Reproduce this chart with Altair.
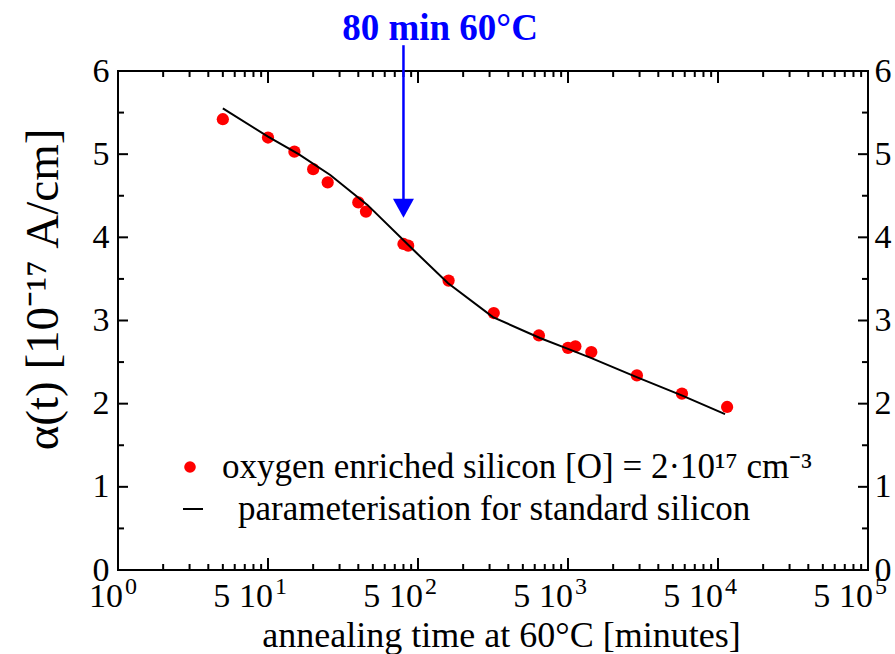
import altair as alt
import pandas as pd

# ---------------- data ----------------
anneal_minutes = [5, 10, 15, 20, 25, 40, 45, 80, 86, 160, 320, 640, 1000, 1120, 1430, 2880, 5750, 11500]
alpha_oxygen = [5.42, 5.20, 5.03, 4.82, 4.66, 4.42, 4.31, 3.92, 3.90, 3.48, 3.09, 2.82, 2.67, 2.69, 2.62, 2.34, 2.12, 1.96]

param_minutes = [5, 10, 16, 26, 46, 93, 158, 316, 650, 1030, 1420, 2870, 5730, 11140]
param_alpha = [5.55, 5.21, 5.00, 4.75, 4.39, 3.85, 3.45, 3.04, 2.79, 2.65, 2.55, 2.32, 2.10, 1.875]

# x tick labels: "10" with a superscript exponent at every decade, "5" between
x_decades = [1, 10, 100, 1000, 10000, 100000]
x_decade_base = ["10", "10", "10", "10", "10", "10"]
x_decade_exp = ["0", "1", "2", "3", "4", "5"]
x_fives = [5, 50, 500, 5000, 50000]
x_five_texts = ["5", "5", "5", "5", "5"]
x_minor_ticks = [m * 10 ** k for k in range(5) for m in range(2, 10)]
y_label_values = [0, 1, 2, 3, 4, 5, 6]
y_minor_ticks = [0.5, 1.5, 2.5, 3.5, 4.5, 5.5]

arrow_minutes = [80]
arrow_top = [6.31]
arrow_bottom = [4.40]
arrowhead_alpha = [4.35]
annotation_text = ["80 min 60°C"]
legend_labels = ["oxygen enriched silicon [O] = 2·10¹⁷ cm⁻³", "parameterisation for standard silicon"]

x_title = "annealing time at 60°C [minutes]"
y_title = "α(t) [10⁻¹⁷ A/cm]"

# ---------------- chart ----------------
W, H = 750, 499
FONT = "Liberation Serif"
xs = alt.Scale(type="log", domain=[1, 100000], nice=False)
ys = alt.Scale(domain=[0, 6], nice=False, zero=False)

pts_df = pd.DataFrame({"t": anneal_minutes, "a": alpha_oxygen})
line_df = pd.DataFrame({"t": param_minutes, "a": param_alpha})

points = alt.Chart(pts_df).mark_circle(size=150, color="#ff0000", opacity=1).encode(
    x=alt.X("t:Q", scale=xs, axis=alt.Axis(
        values=x_decades, labels=False, title=x_title,
        titleFontSize=36, titleBaseline="alphabetic", titleY=76, titleX=383,
    )),
    y=alt.Y("a:Q", scale=ys, axis=alt.Axis(
        orient="left", values=y_label_values, title=y_title,
        labelFontSize=34, labelPadding=9, labelFlush=False,
        titleFontSize=47, titleBaseline="alphabetic", titleX=-61, titleY=218,
        titleAngle=270,
    )),
)

line = alt.Chart(line_df).mark_line(color="black", strokeWidth=2).encode(
    x=alt.X("t:Q", scale=xs, axis=None),
    y=alt.Y("a:Q", scale=ys, axis=alt.Axis(
        orient="right", values=y_label_values, title=None,
        labelFontSize=34, labelPadding=6, labelFlush=False,
    )),
)

def xticks(vals, y0, y1):
    return alt.Chart(pd.DataFrame({"t": vals})).mark_rule(color="black", strokeWidth=2).encode(
        x=alt.X("t:Q", scale=xs, axis=None), y=alt.value(y0), y2=alt.value(y1))

def yticks(vals, x0, x1):
    return alt.Chart(pd.DataFrame({"v": vals})).mark_rule(color="black", strokeWidth=2).encode(
        y=alt.Y("v:Q", scale=ys, axis=None), x=alt.value(x0), x2=alt.value(x1))

tick_layers = [
    xticks(x_decades, H, H - 12), xticks(x_minor_ticks, H, H - 6),
    xticks(x_decades, 0, 12), xticks(x_minor_ticks, 0, 6),
    yticks(y_label_values, 0, 10), yticks(y_minor_ticks, 0, 6),
    yticks(y_label_values, W, W - 10), yticks(y_minor_ticks, W, W - 6),
]

# x tick labels drawn through the x scale
dec_df = pd.DataFrame({"t": x_decades, "base": x_decade_base, "exp": x_decade_exp})
five_df = pd.DataFrame({"t": x_fives, "s": x_five_texts})
lab_dec = alt.Chart(dec_df).mark_text(
    font=FONT, fontSize=34, color="black", align="right", baseline="alphabetic", dx=5
).encode(x=alt.X("t:Q", scale=xs, axis=None), y=alt.value(H + 37), text="base:N")
lab_exp = alt.Chart(dec_df).mark_text(
    font=FONT, fontSize=24, color="black", align="left", baseline="alphabetic", dx=7
).encode(x=alt.X("t:Q", scale=xs, axis=None), y=alt.value(H + 24), text="exp:N")
lab_five = alt.Chart(five_df).mark_text(
    font=FONT, fontSize=34, color="black", align="center", baseline="alphabetic", dx=-1
).encode(x=alt.X("t:Q", scale=xs, axis=None), y=alt.value(H + 37), text="s:N")

arrow_df = pd.DataFrame({"t": arrow_minutes, "top": arrow_top, "bottom": arrow_bottom, "head": arrowhead_alpha})
arrow = alt.Chart(arrow_df).mark_rule(color="#0000ff", strokeWidth=2.5).encode(
    x=alt.X("t:Q", scale=xs, axis=None),
    y=alt.Y("top:Q", scale=ys, axis=None), y2="bottom:Q")
head = alt.Chart(arrow_df).mark_point(
    shape="M -1 -0.9 L 1 -0.9 L 0 0.9 Z", filled=True, size=441, color="#0000ff", opacity=1, strokeWidth=0
).encode(x=alt.X("t:Q", scale=xs, axis=None), y=alt.Y("head:Q", scale=ys, axis=None))

title = alt.Chart(pd.DataFrame({"s": annotation_text})).mark_text(
    font=FONT, fontSize=37, fontWeight="bold", color="#0000ff", align="center", baseline="alphabetic"
).encode(text="s:N", x=alt.value(322), y=alt.value(-31))

leg_dot = alt.Chart(pd.DataFrame({"s": legend_labels[:1]})).mark_circle(size=135, color="#ff0000", opacity=1).encode(
    x=alt.value(72), y=alt.value(396))
leg_txt1 = alt.Chart(pd.DataFrame({"s": legend_labels[:1]})).mark_text(
    font=FONT, fontSize=35, color="black", align="left", baseline="middle"
).encode(text="s:N", x=alt.value(104), y=alt.value(396))
leg_line = alt.Chart(pd.DataFrame({"s": legend_labels[1:]})).mark_rule(color="black", strokeWidth=2).encode(
    x=alt.value(65), x2=alt.value(85), y=alt.value(438))
leg_txt2 = alt.Chart(pd.DataFrame({"s": legend_labels[1:]})).mark_text(
    font=FONT, fontSize=35, color="black", align="left", baseline="middle"
).encode(text="s:N", x=alt.value(120), y=alt.value(438))

chart = alt.layer(
    points, line, *tick_layers, lab_dec, lab_exp, lab_five,
    arrow, head, title, leg_dot, leg_txt1, leg_line, leg_txt2
).resolve_axis(x="independent", y="independent").properties(
    width=W, height=H,
    padding={"left": 118, "top": 71, "right": 27, "bottom": 84},
    autosize=alt.AutoSizeParams(type="none"),
    background="white",
).configure_view(stroke="black", strokeWidth=2).configure_axis(
    labelFont=FONT, titleFont=FONT, labelColor="black", titleColor="black",
    titleFontWeight="normal", grid=False, ticks=False, domain=False,
)

chart.save("out.html", embed_options={"renderer": "svg", "actions": False})
